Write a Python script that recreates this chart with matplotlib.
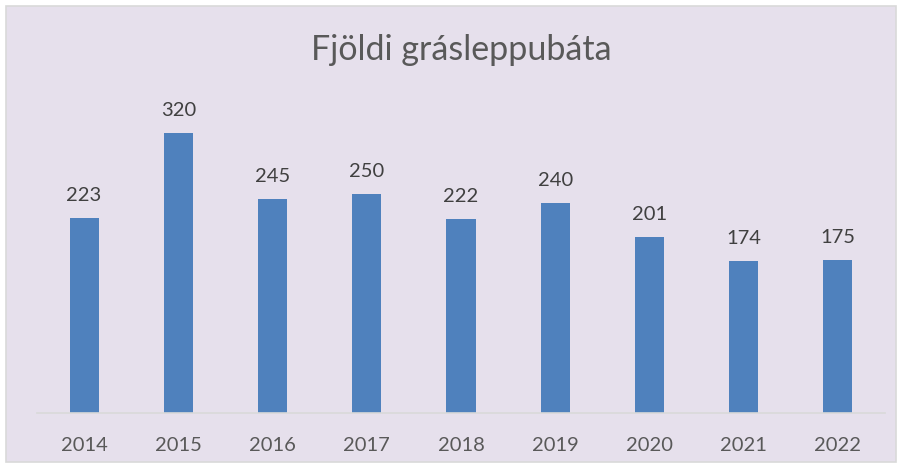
import matplotlib.pyplot as plt
from matplotlib.patches import Rectangle

years = ['2014', '2015', '2016', '2017', '2018', '2019', '2020', '2021', '2022']
boats = [223, 320, 245, 250, 222, 240, 201, 174, 175]

plt.rcParams['font.family'] = ['Lato', 'DejaVu Sans']

W, H = 903, 468
fig = plt.figure(figsize=(W / 100, H / 100), dpi=100)
fig.patch.set_facecolor('white')
# chart area with border, drawn behind the axes
fig.patches.append(Rectangle((6 / W, 6 / H), (896 - 6) / W, (462 - 6) / H,
                             transform=fig.transFigure, facecolor='#E6E0EC',
                             edgecolor='#D9D9D9', linewidth=1.2, zorder=-5))

ax = fig.add_axes([37 / W, (H - 413) / H, (885 - 37) / W, (413 - 106.75) / H])
ax.set_facecolor('none')
x = range(len(years))
ax.bar(x, boats, width=0.31, color='#4F81BD', zorder=2)
for i, v in enumerate(boats):
    ax.annotate(str(v), (i, v), xytext=(0, 10), textcoords='offset points',
                ha='center', va='bottom', fontsize=14.5, color='#404040')

ax.set_xlim(-0.5, len(years) - 0.5)
ax.set_ylim(0, 350)
ax.set_xticks(list(x))
ax.set_xticklabels(years, fontsize=14.5, color='#595959')
ax.tick_params(axis='x', length=0, pad=17)
ax.set_yticks([])
for s in ['top', 'right', 'left']:
    ax.spines[s].set_visible(False)
ax.spines['bottom'].set_color('#D9D9D9')
ax.spines['bottom'].set_linewidth(1.2)

fig.text(461 / W, 1 - 50 / H, 'Fjöldi grásleppubáta', ha='center', va='center',
         fontsize=24.5, color='#595959')

fig.savefig('out.png', dpi=100)
